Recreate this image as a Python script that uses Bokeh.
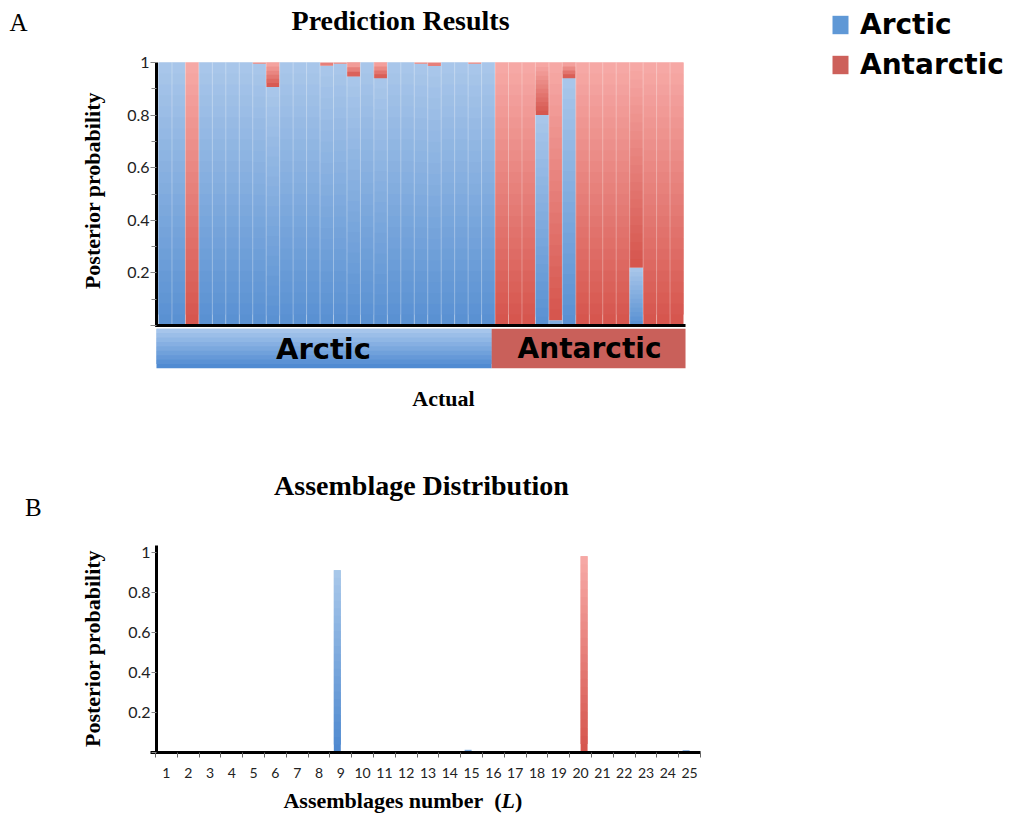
import numpy as np
from bokeh.plotting import figure
from bokeh.models import Range1d, FixedTicker, Label, Legend, LegendItem
from bokeh.layouts import column
from bokeh.embed import file_html
from bokeh.resources import INLINE

# ---------------- data ----------------
actual_classes = ["Arctic", "Antarctic"]
n_arctic_samples = 25
n_antarctic_samples = 14
arctic_prob = [1.0, 1.0, 0.0, 1.0, 1.0, 1.0, 1.0, 0.995, 0.907, 1.0,
               1.0, 1.0, 0.988, 0.995, 0.947, 1.0, 0.94, 1.0, 1.0, 0.995,
               0.987, 1.0, 1.0, 0.995, 1.0,
               0.0, 0.0, 0.0, 0.80, 0.02, 0.94, 0.0, 0.0, 0.0, 0.0,
               0.22, 0.0, 0.0, 0.0]
antarctic_prob = [round(1 - v, 4) for v in arctic_prob]

assemblages = list(range(1, 26))
arctic_assemblage = [0, 0, 0, 0, 0, 0, 0, 0, 0.91, 0.005, 0, 0, 0, 0, 0.012,
                     0, 0, 0, 0, 0, 0, 0, 0, 0, 0.01]
antarctic_assemblage = [0, 0, 0, 0, 0, 0, 0, 0, 0, 0, 0, 0, 0, 0, 0,
                        0, 0, 0, 0, 0.98, 0, 0, 0, 0, 0]

y_ticks = [0, 0.2, 0.4, 0.6, 0.8, 1]
y_tick_labels = ["", "0.2", "0.4", "0.6", "0.8", "1"]

# ---------------- styles ----------------
BLUE_TOP, BLUE_BOT = "#aac7ea", "#5890d2"
RED_TOP, RED_BOT = "#f7aaa7", "#d5544c"
SERIF = "Liberation Serif"
TICK_FONT = "Lato"
HEAVY = "DejaVu Sans"
W = 1010


def _rgb(h):
    h = h.lstrip("#")
    return [int(h[i:i + 2], 16) for i in (0, 2, 4)]


def _mix(c_bot, c_top, t):
    a, b = _rgb(c_bot), _rgb(c_top)
    return "#%02x%02x%02x" % tuple(int(round(a[k] + (b[k] - a[k]) * t)) for k in range(3))


def gradient(store, left, right, y0, y1, c_bot, c_top, n=24):
    if y1 - y0 <= 0:
        return
    n = max(1, min(n, int(round((y1 - y0) * 60))))
    h = (y1 - y0) / n
    for k in range(n):
        store["left"].append(left)
        store["right"].append(right)
        store["bottom"].append(y0 + k * h)
        store["top"].append(min(y0 + (k + 2) * h, y1))
        store["color"].append(_mix(c_bot, c_top, (k + 0.5) / n))


def new_store():
    return dict(left=[], right=[], bottom=[], top=[], color=[])


def txt(p, x, y, text, font=SERIF, size="22px", style="bold", align="center", angle=0.0):
    p.add_layout(Label(x=x, y=y, text=text, text_font=font, text_font_style=style,
                       text_font_size=size, text_align=align, text_baseline="middle",
                       text_color="black", angle=angle))


# ================= Panel A =================
n_total = n_arctic_samples + n_antarctic_samples
HA = 418
pA = figure(width=W, height=HA, x_range=Range1d(-12.237, 62.791),
            y_range=Range1d(-0.35361, 1.23574), output_backend="svg", toolbar_location=None,
            min_border=0)
pA.outline_line_color = None
pA.xgrid.visible = False
pA.ygrid.visible = False
pA.xaxis.visible = False

bars = new_store()
for i, (pa, pr) in enumerate(zip(arctic_prob, antarctic_prob)):
    gradient(bars, i - 0.5, i + 0.5, 0.0, pa, BLUE_BOT, BLUE_TOP)
    gradient(bars, i - 0.5, i + 0.5, pa, pa + pr, RED_BOT, RED_TOP)
pA.quad(left="left", right="right", bottom="bottom", top="top", fill_color="color",
        line_color=None, source=bars)

sep_x = [i + 0.5 for i in range(n_total - 1)]
pA.segment(x0=sep_x, x1=sep_x, y0=[0] * len(sep_x), y1=[1] * len(sep_x),
           line_color="white", line_alpha=0.3, line_width=1)

# category band under the axis
x_left = -0.65
x_right = n_total - 0.35
x_split = n_arctic_samples - 0.75
band = new_store()
gradient(band, x_left, x_split, -0.163, -0.012, "#4b87d0", "#abc9ed")
pA.quad(left="left", right="right", bottom="bottom", top="top", fill_color="color",
        line_color=None, source=band)
pA.quad(left=[x_split], right=[x_right], bottom=[-0.163], top=[-0.012],
        fill_color="#c9605a", line_color=None)
pA.segment(x0=[x_left - 0.1], x1=[x_right], y0=[0], y1=[0], line_color="black", line_width=3)

ya = pA.yaxis[0]
ya.fixed_location = x_left
ya.ticker = FixedTicker(ticks=y_ticks,
                        minor_ticks=[(a + b) / 2 for a, b in zip(y_ticks, y_ticks[1:])])
ya.major_label_overrides = dict(zip(y_ticks, y_tick_labels))
ya.bounds = (0, 1)
ya.axis_line_width = 3
ya.axis_line_color = "black"
ya.major_tick_out = 6
ya.major_tick_in = 0
ya.minor_tick_out = 5
ya.minor_tick_in = 0
ya.major_tick_line_color = "#888888"
ya.minor_tick_line_color = "#888888"
ya.major_label_standoff = 1
ya.major_label_text_font = TICK_FONT
ya.major_label_text_font_size = "16px"
ya.major_label_text_color = "#222222"

txt(pA, -10.9, 1.152, "A", size="25px", style="normal")
txt(pA, 17.48, 1.16, "Prediction Results", size="28px")
txt(pA, -5.4, 0.513, "Posterior probability", angle=np.pi / 2)
txt(pA, 20.67, -0.2776, "Actual")
txt(pA, 11.76, -0.0875, actual_classes[0], font=HEAVY, size="29px")
txt(pA, 31.52, -0.0875, actual_classes[1], font=HEAVY, size="28px")

r_blue = pA.quad(left=[np.nan], right=[np.nan], bottom=[np.nan], top=[np.nan],
                 fill_color="#5f98d6", line_color=None)
r_red = pA.quad(left=[np.nan], right=[np.nan], bottom=[np.nan], top=[np.nan],
                fill_color="#cd605a", line_color=None)
legend = Legend(items=[LegendItem(label=actual_classes[0], renderers=[r_blue]),
                       LegendItem(label=actual_classes[1], renderers=[r_red])],
                location=(830, 337), glyph_width=20, glyph_height=23, label_standoff=10,
                spacing=7, padding=0, margin=0, border_line_color=None,
                background_fill_alpha=0, label_text_font=HEAVY,
                label_text_font_style="bold", label_text_font_size="28px",
                label_text_color="black")
pA.add_layout(legend)

# ================= Panel B =================
HB = 395
pB = figure(width=W, height=HB, x_range=Range1d(-6.610, 39.72), y_range=Range1d(-0.3065, 1.6685),
            output_backend="svg", toolbar_location=None, min_border=0)
pB.outline_line_color = None
pB.xgrid.visible = False
pB.ygrid.visible = False

bw = 0.32
barsB = new_store()
for a, va, vr in zip(assemblages, arctic_assemblage, antarctic_assemblage):
    gradient(barsB, a - bw, a, 0.0, va, "#4d88cf", "#a9c8ea")
    gradient(barsB, a, a + bw, 0.0, vr, RED_BOT, RED_TOP)
pB.quad(left="left", right="right", bottom="bottom", top="top", fill_color="color",
        line_color=None, source=barsB)

yb = pB.yaxis[0]
yb.fixed_location = 0.546
yb.bounds = (0, 1.033)
yb.ticker = FixedTicker(ticks=y_ticks, minor_ticks=[])
yb.major_label_overrides = dict(zip(y_ticks, y_tick_labels))
yb.axis_line_width = 3
yb.axis_line_color = "black"
yb.major_tick_out = 5
yb.major_tick_in = 0
yb.major_tick_line_color = "#888888"
yb.major_label_standoff = 1
yb.major_label_text_font = TICK_FONT
yb.major_label_text_font_size = "16px"
yb.major_label_text_color = "#222222"

xb = pB.xaxis[0]
xb.fixed_location = 0
xb.bounds = (0.27, assemblages[-1] + 0.5)
xb.ticker = FixedTicker(ticks=assemblages,
                        minor_ticks=[a - 0.5 for a in assemblages] + [assemblages[-1] + 0.5])
xb.axis_line_width = 3
xb.axis_line_color = "black"
xb.major_tick_out = 0
xb.major_tick_in = 0
xb.major_tick_line_color = None
xb.minor_tick_out = 5
xb.minor_tick_in = 0
xb.minor_tick_line_color = "#666666"
xb.major_label_standoff = 11
xb.major_label_text_font = TICK_FONT
xb.major_label_text_font_size = "14px"
xb.major_label_text_color = "#222222"

txt(pB, -5.1, 1.2235, "B", size="25px", style="normal")
txt(pB, 12.7, 1.3335, "Assemblage Distribution", size="28px")
txt(pB, -2.39, 0.5185, "Posterior probability", angle=np.pi / 2)
txt(pB, 15.537, -0.2415, "Assemblages number", align="right")
txt(pB, 16.04, -0.2415, "(", align="left")
txt(pB, 16.375, -0.2415, "L", style="bold italic", align="left")
txt(pB, 16.99, -0.2415, ")", align="left")

layout = column(pA, pB)
open("out.html", "w").write(file_html(layout, INLINE))
